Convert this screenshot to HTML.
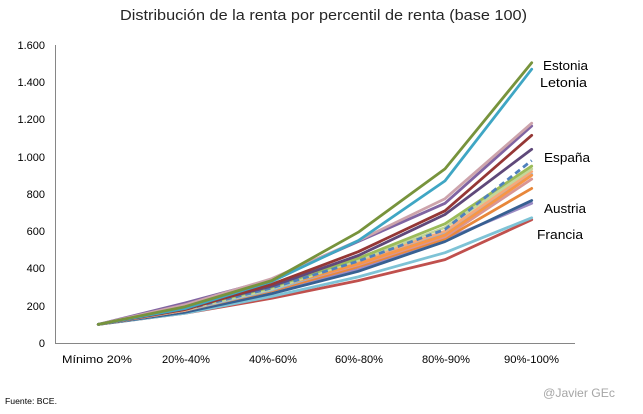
<!DOCTYPE html>
<html>
<head>
<meta charset="utf-8">
<style>
html,body{margin:0;padding:0;background:#fff;}
svg{display:block;}
text{font-family:"Liberation Sans","DejaVu Sans",sans-serif;}
</style>
</head>
<body>
<svg width="643" height="414" viewBox="0 0 643 414" xmlns="http://www.w3.org/2000/svg">
<rect width="643" height="414" fill="#fff"/>
<text x="120" y="20" font-size="14.5" fill="#262626" textLength="407" lengthAdjust="spacingAndGlyphs">Distribución de la renta  por percentil de renta (base 100)</text>

<!-- axes -->
<line x1="55.5" y1="45" x2="55.5" y2="343" stroke="#868686" stroke-width="1"/>
<line x1="55" y1="343.5" x2="575" y2="343.5" stroke="#868686" stroke-width="1"/>

<!-- y labels -->
<g font-size="11" fill="#000" text-anchor="end">
<text x="45" y="49">1.600</text>
<text x="45" y="86">1.400</text>
<text x="45" y="123">1.200</text>
<text x="45" y="161">1.000</text>
<text x="45" y="198">800</text>
<text x="45" y="235">600</text>
<text x="45" y="272">400</text>
<text x="45" y="310">200</text>
<text x="45" y="347">0</text>
</g>

<!-- x labels -->
<g font-size="11" fill="#000">
<text x="62" y="363" textLength="70" lengthAdjust="spacingAndGlyphs">Mínimo 20%</text>
<text x="162" y="363" textLength="48" lengthAdjust="spacingAndGlyphs">20%-40%</text>
<text x="249" y="363" textLength="48" lengthAdjust="spacingAndGlyphs">40%-60%</text>
<text x="335" y="363" textLength="48" lengthAdjust="spacingAndGlyphs">60%-80%</text>
<text x="422" y="363" textLength="48" lengthAdjust="spacingAndGlyphs">80%-90%</text>
<text x="504" y="363" textLength="55" lengthAdjust="spacingAndGlyphs">90%-100%</text>
</g>

<g fill="none" stroke-width="2.8" stroke-linejoin="round" stroke-linecap="round">
<polyline stroke="#C0504D" points="98.3,324.4 185,313.2 271.7,298.3 358.3,280.6 445,259.6 531.7,219.7"/>
<polyline stroke="#7EC3D6" points="98.3,324.4 185,313.2 271.7,296.4 358.3,276.9 445,252.7 531.7,217.8"/>
<polyline stroke="#9C8BC4" points="98.3,324.4 185,311.3 271.7,292.7 358.3,269.4 445,239.6 531.7,203.3"/>
<polyline stroke="#376092" points="98.3,324.4 185,312.3 271.7,293.6 358.3,271.3 445,241.5 531.7,200.5"/>
<polyline stroke="#E8873A" points="98.3,324.4 185,310.4 271.7,290.8 358.3,266.6 445,238.7 531.7,188.4"/>
<polyline stroke="#D99694" points="98.3,324.4 185,309.5 271.7,289.0 358.3,264.8 445,236.8 531.7,179.1"/>
<polyline stroke="#95B3D7" points="98.3,324.4 185,310.4 271.7,289.9 358.3,262.9 445,233.1 531.7,174.4"/>
<polyline stroke="#F6A97A" points="98.3,324.4 185,310.4 271.7,287.1 358.3,261.1 445,231.2 531.7,171.6"/>
<polyline stroke="#F79646" points="98.3,324.4 185,309.5 271.7,288.0 358.3,263.8 445,235.0 531.7,175.3"/>
<polyline stroke="#C3D69B" points="98.3,324.4 185,309.5 271.7,289.0 358.3,260.1 445,227.5 531.7,168.9"/>
<polyline stroke="#9BBB59" points="98.3,324.4 185,308.5 271.7,287.1 358.3,258.3 445,223.8 531.7,166.1"/>
<polyline stroke="#4F81BD" stroke-dasharray="6,4" stroke-linecap="butt" points="98.3,324.4 185,309.5 271.7,288.0 358.3,261.1 445,229.4 531.7,160.5"/>
<polyline stroke="#5F497A" points="98.3,324.4 185,307.6 271.7,286.2 358.3,255.5 445,214.5 531.7,149.3"/>
<polyline stroke="#953735" points="98.3,324.4 185,309.5 271.7,284.3 358.3,251.7 445,210.8 531.7,135.3"/>
<polyline stroke="#8064A2" points="98.3,324.4 185,303.0 271.7,279.7 358.3,241.5 445,203.3 531.7,126.0"/>
<polyline stroke="#CDA4AC" points="98.3,324.4 185,304.8 271.7,278.7 358.3,240.6 445,198.7 531.7,123.2"/>
<polyline stroke="#3FA6C4" points="98.3,324.4 185,308.5 271.7,281.5 358.3,240.6 445,180.9 531.7,69.2"/>
<polyline stroke="#77933C" points="98.3,324.4 185,306.7 271.7,280.6 358.3,232.2 445,168.9 531.7,62.7"/>
</g>

<g font-size="13" fill="#000">
<text x="543" y="70" textLength="45" lengthAdjust="spacingAndGlyphs">Estonia</text>
<text x="540" y="87" textLength="47" lengthAdjust="spacingAndGlyphs">Letonia</text>
<text x="544" y="162" textLength="46" lengthAdjust="spacingAndGlyphs">España</text>
<text x="544" y="213" textLength="42" lengthAdjust="spacingAndGlyphs">Austria</text>
<text x="537" y="239" textLength="46" lengthAdjust="spacingAndGlyphs">Francia</text>
</g>

<text x="5" y="404" font-size="8" fill="#000" textLength="52" lengthAdjust="spacingAndGlyphs">Fuente: BCE.</text>
<text x="543" y="397" font-size="12" fill="#A6A6A6" textLength="72" lengthAdjust="spacingAndGlyphs">@Javier GEc</text>
</svg>
</body>
</html>
